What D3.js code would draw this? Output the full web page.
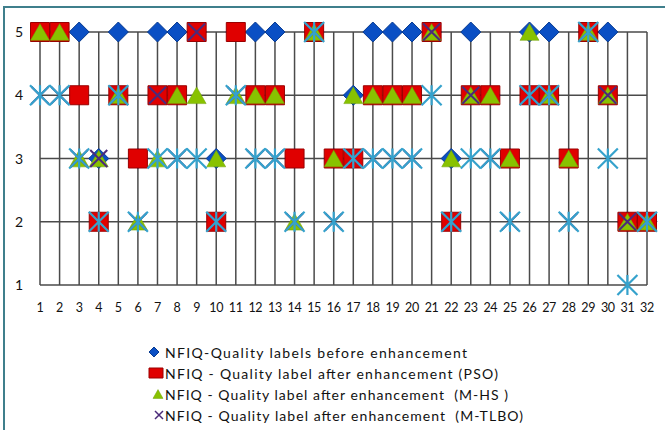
<!DOCTYPE html>
<html>
<head>
<meta charset="utf-8">
<script src="https://cdn.jsdelivr.net/npm/d3@7"></script>
<style>
  body { margin: 0; background: #fff; }
  svg { display: block; }
</style>
</head>
<body>
<script>
// Data
const samples = [1,2,3,4,5,6,7,8,9,10,11,12,13,14,15,16,17,18,19,20,21,22,23,24,25,26,27,28,29,30,31,32];
const before = [5,5,5,3,5,3,5,5,5,3,5,5,5,3,5,3,4,5,5,5,5,3,5,4,3,5,5,3,5,5,2,2];
const pso    = [5,5,4,2,4,3,4,4,5,2,5,4,4,3,5,3,3,4,4,4,5,2,4,4,3,4,4,3,5,4,2,2];
const mhs    = [5,5,3,3,4,2,3,4,4,3,4,4,4,2,5,3,4,4,4,4,5,3,4,4,3,5,4,3,5,4,2,2];
const mtlbo  = [4,4,3,3,4,2,4,3,5,2,4,3,3,2,5,2,3,3,3,3,5,2,4,3,2,4,4,2,5,4,2,2];
const extra  = [4,4,3,2,4,2,3,3,3,2,4,3,3,2,5,2,3,3,3,3,4,2,3,3,2,4,4,2,5,3,1,2];
const yTicks = [1,2,3,4,5];

const legendLabels = [
  "NFIQ-Quality labels before enhancement",
  "NFIQ - Quality label after enhancement (PSO)",
  "NFIQ - Quality label after enhancement  (M-HS )",
  "NFIQ - Quality label after enhancement  (M-TLBO)"
];

// marker shapes
function diamond(s) { const h = s / 2; return `M0,${-h}L${h},0L0,${h}L${-h},0Z`; }
function square(w, h) { return `M${-w/2},${-h/2}h${w}v${h}h${-w}Z`; }
function triangle(s) { const h = s * 0.88; return `M0,${-h/2}L${s/2},${h/2}L${-s/2},${h/2}Z`; }
function cross(s) { const h = s / 2; return `M${-h},${-h}L${h},${h}M${-h},${h}L${h},${-h}`; }
function star(s) { const h = s / 2; return `M${-h},${-h}L${h},${h}M${-h},${h}L${h},${-h}M0,${-h}L0,${h}`; }

const series = [
  { values: before, path: diamond(20), fill: "#0a4fc4", stroke: "#073a90", sw: 1 },
  { values: pso, path: square(19, 19), fill: "#e00000", stroke: "#9a0000", sw: 1 },
  { values: mhs, path: triangle(19), fill: "#88c200", stroke: "#6f9f00", sw: 0.5 },
  { values: mtlbo, path: cross(17), fill: "none", stroke: "#4b2a7a", sw: 2 },
  { values: extra, path: star(20), fill: "none", stroke: "#35a2cc", sw: 2.2 }
];

const svg = d3.select("body").append("svg")
    .attr("width", 665)
    .attr("height", 430);

// outer frame
svg.append("rect")
    .attr("x", 4).attr("y", 7)
    .attr("width", 700).attr("height", 500)
    .attr("fill", "#fff")
    .attr("stroke", "#3f7f8c")
    .attr("stroke-width", 2);

const x = d3.scaleLinear().domain([1, 32]).range([40, 647]);
const y = d3.scaleLinear().domain([1, 5]).range([285, 32]);

const grid = svg.append("g")
    .attr("stroke", "#4a4a4a")
    .attr("stroke-width", 1.5);

grid.selectAll(".v").data(samples).join("line")
    .attr("x1", d => x(d)).attr("x2", d => x(d))
    .attr("y1", y(5)).attr("y2", y(1));

grid.selectAll(".h").data(yTicks).join("line")
    .attr("x1", x(1)).attr("x2", x(32))
    .attr("y1", d => y(d)).attr("y2", d => y(d));

// tick labels
svg.append("g").selectAll("text").data(yTicks).join("text")
    .attr("x", 19)
    .attr("y", d => y(d) + 5)
    .attr("text-anchor", "middle")
    .attr("font-family", "Lato, 'Open Sans', sans-serif")
    .attr("font-size", 14)
    .attr("fill", "#111")
    .text(d => d);

svg.append("g").selectAll("text").data(samples).join("text")
    .attr("x", d => x(d))
    .attr("y", 312)
    .attr("text-anchor", "middle")
    .attr("font-family", "Lato, 'Open Sans', sans-serif")
    .attr("font-size", 12.5)
    .attr("letter-spacing", -0.3)
    .attr("fill", "#111")
    .text(d => d);

// markers
series.forEach(s => {
  svg.append("g").selectAll("path").data(samples).join("path")
      .attr("transform", (d, i) => `translate(${x(d)},${y(s.values[i])})`)
      .attr("d", s.path)
      .attr("fill", s.fill)
      .attr("stroke", s.stroke)
      .attr("stroke-width", s.sw);
});

// legend
const legendMarks = [
  { path: diamond(10), fill: "#0a4fc4", stroke: "#073a90", sw: 1, dx: 154 },
  { path: square(14, 10), fill: "#e00000", stroke: "#9a0000", sw: 1, dx: 156 },
  { path: triangle(10), fill: "#88c200", stroke: "#6f9f00", sw: 0.5, dx: 158 },
  { path: cross(8), fill: "none", stroke: "#4b2a7a", sw: 1.5, dx: 159 }
];
const legendY = [353, 374, 395, 416];
const legendW = [302, 333, 343, 358];

const legend = svg.append("g");
legendLabels.forEach((label, i) => {
  const m = legendMarks[i];
  legend.append("path")
      .attr("transform", `translate(${m.dx},${legendY[i] - 1})`)
      .attr("d", m.path)
      .attr("fill", m.fill)
      .attr("stroke", m.stroke)
      .attr("stroke-width", m.sw);
  legend.append("text")
      .attr("x", 165)
      .attr("y", legendY[i] + 5)
      .attr("font-family", "Lato, 'Open Sans', sans-serif")
      .attr("font-size", 14)
      .attr("fill", "#111")
      .attr("textLength", legendW[i])
      .attr("lengthAdjust", "spacing")
      .attr("xml:space", "preserve")
      .text(label);
});
</script>
</body>
</html>
